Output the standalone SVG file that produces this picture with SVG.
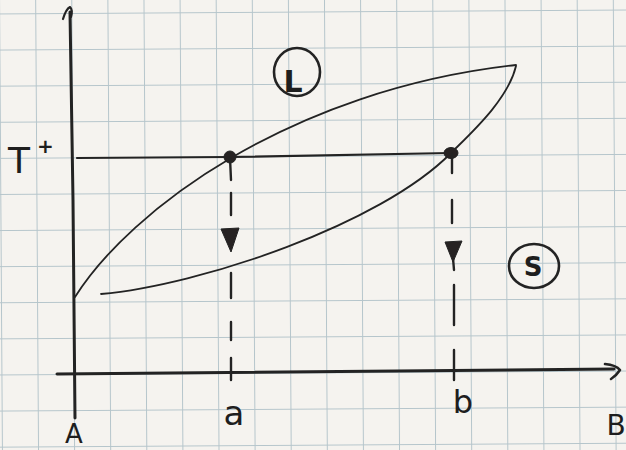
<svg xmlns="http://www.w3.org/2000/svg" width="626" height="450" viewBox="0 0 626 450">
<style>
.grid{stroke:#b5c5cb;stroke-width:2;fill:none}
.ink{stroke:#232323;fill:none;stroke-linecap:round;stroke-linejoin:round}
.axis{stroke-width:3}
.curve{stroke-width:1.8}
.dash{stroke-width:2.4}
.fillink{fill:#262222;stroke:#232323;stroke-width:1}
.lbl{font-family:"DejaVu Sans","Liberation Sans",sans-serif;fill:#1e1e1e}
</style>
<defs>
<pattern id="gridpat" x="0.5" y="-24.6" width="36.1" height="36.1" patternUnits="userSpaceOnUse">
<path class="grid" d="M0,0 V36.1 M0,0 H36.1"/>
</pattern>
</defs>
<rect width="626" height="450" fill="#f5f3ef"/>
<g id="paper-grid" transform="rotate(-0.36 313 225)">
<rect x="-20" y="-20" width="670" height="490" fill="url(#gridpat)"/>
</g>

<g id="axes">
<path class="ink axis" d="M70,12 L73,200 L75,418"/>
<path class="ink" stroke-width="2.2" d="M63,19 Q66,9 70,7 Q73,10 71,17"/>
<path class="ink axis" d="M57,374 L614,369"/>
<path class="ink" stroke-width="2.6" d="M605,364 Q616,365 620,370 Q616,376 611,379"/>
</g>

<g id="curves">
<path id="liquidus" class="ink curve" d="M75,297 C130,210 290,90 516,65"/>
<path id="solidus" class="ink curve" d="M101,294 C200,285 380,225 451,153 C470,134 508,100 516,66"/>
<path id="tie-line" class="ink" stroke-width="2.2" d="M77,158 L230,157 L451,153"/>
</g>

<g id="point-a">
<ellipse class="fillink" cx="230" cy="157" rx="6" ry="6"/>
</g>
<g id="point-b">
<ellipse class="fillink" cx="451" cy="153" rx="7" ry="5.5"/>
</g>

<g id="connectors">
<path class="ink dash" d="M230,158 L231,180 M231,193 L231,215 M231,273 L231,298 M231,322 L231,340 M231,358 L231,380"/>
<path class="fillink" d="M221,229 L239,228 L231,252 Z"/>
<path class="ink dash" d="M452,154 L452,173 M452,200 L452,223 M453,258 L454,270 M454,285 L454,325 M454,350 L454,380"/>
<path class="fillink" d="M445,242 L462,241 L453,262 Z"/>
</g>

<g id="label-L">
<ellipse class="ink" stroke-width="2.6" cx="297" cy="72" rx="23" ry="24"/>
<text class="lbl" x="293" y="92" font-size="30" font-weight="bold" text-anchor="middle">L</text>
</g>
<g id="label-S">
<ellipse class="ink" stroke-width="2.6" cx="534" cy="266" rx="25" ry="22"/>
<text class="lbl" x="533" y="276" font-size="26" font-weight="bold" text-anchor="middle">S</text>
</g>
<g id="label-T">
<text class="lbl" x="8" y="173" font-size="36">T</text>
<text class="lbl" x="37" y="153" font-size="20" font-weight="bold">+</text>
</g>
<g id="label-a"><text class="lbl" x="234" y="425" font-size="34" text-anchor="middle">a</text></g>
<g id="label-b"><text class="lbl" x="463" y="413" font-size="32" text-anchor="middle">b</text></g>
<g id="label-A"><text class="lbl" x="74" y="443" font-size="26" text-anchor="middle">A</text></g>
<g id="label-B"><text class="lbl" x="616" y="435" font-size="28" text-anchor="middle">B</text></g>
</svg>
